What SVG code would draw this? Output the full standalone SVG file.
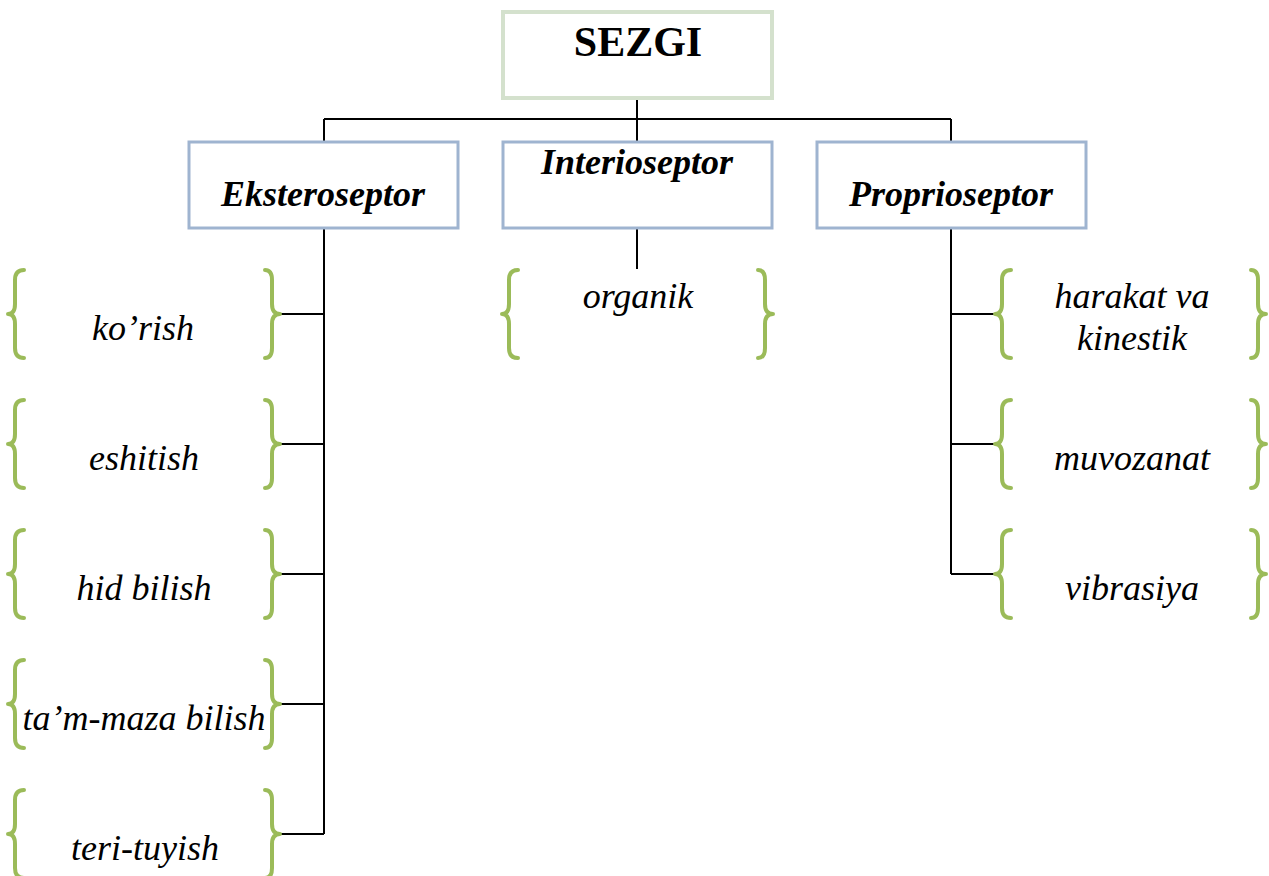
<svg xmlns="http://www.w3.org/2000/svg" xmlns:xlink="http://www.w3.org/1999/xlink" width="1269" height="876" viewBox="0 0 1269 876">
<style>
.root{fill:#fff;stroke:#d4e1cd;stroke-width:4}
.box{fill:#fff;stroke:#9fb4d0;stroke-width:3}
.br{fill:none;stroke:#9bbb59;stroke-width:4;stroke-linecap:round;stroke-linejoin:round}
.ln{fill:none;stroke:#000;stroke-width:2}
.t{font-family:"Liberation Serif","Times New Roman",serif;font-size:36px;font-style:italic;text-anchor:middle;fill:#000}
.h{font-family:"Liberation Serif","Times New Roman",serif;font-size:36px;font-style:italic;font-weight:bold;text-anchor:middle;fill:#000}
.title{font-family:"Liberation Serif","Times New Roman",serif;font-size:42px;font-weight:bold;text-anchor:middle;fill:#000}
</style>
<defs>
<path id="bl" class="br" d="M16,0 Q7,0 7,10 L7,34 Q7,44 0,44 Q7,44 7,54 L7,78 Q7,88 16,88"/>
<path id="brr" class="br" d="M0,0 Q7,0 7,10 L7,34 Q7,44 15,44 Q7,44 7,54 L7,78 Q7,88 0,88"/>
</defs>
<rect width="1269" height="876" fill="#fff"/>
<g id="connectors">
<path class="ln" d="M637,98 V141 M324,119 H951 M324,119 V141 M951,119 V141"/>
<path class="ln" d="M324,228 V834 M280,314 H324 M280,444 H324 M280,574 H324 M280,704 H324 M280,834 H324"/>
<path class="ln" d="M637,228 V269"/>
<path class="ln" d="M951,228 V574 M951,314 H997 M951,444 H997 M951,574 H997"/>
</g>
<g id="sezgi"><rect class="root" x="503" y="12" width="269" height="86"/><text class="title" x="638" y="56">SEZGI</text></g>
<g id="eksteroseptor"><rect class="box" x="189" y="142" width="269" height="86"/><text class="h" x="323" y="206">Eksteroseptor</text></g>
<g id="interioseptor"><rect class="box" x="503" y="142" width="269" height="86"/><text class="h" x="637" y="174">Interioseptor</text></g>
<g id="proprioseptor"><rect class="box" x="817" y="142" width="269" height="86"/><text class="h" x="951" y="206">Proprioseptor</text></g>
<g id="korish"><use xlink:href="#bl" x="8" y="270"/><use xlink:href="#brr" x="265" y="270"/><text class="t" x="143" y="340">ko’rish</text></g>
<g id="eshitish"><use xlink:href="#bl" x="8" y="400"/><use xlink:href="#brr" x="265" y="400"/><text class="t" x="144" y="470">eshitish</text></g>
<g id="hidbilish"><use xlink:href="#bl" x="8" y="530"/><use xlink:href="#brr" x="265" y="530"/><text class="t" x="144" y="600">hid bilish</text></g>
<g id="tammaza"><use xlink:href="#bl" x="8" y="660"/><use xlink:href="#brr" x="265" y="660"/><text class="t" x="144" y="730">ta’m-maza bilish</text></g>
<g id="terituyish"><use xlink:href="#bl" x="8" y="790"/><use xlink:href="#brr" x="265" y="790"/><text class="t" x="145" y="860">teri-tuyish</text></g>
<g id="organik"><use xlink:href="#bl" x="502" y="270"/><use xlink:href="#brr" x="758" y="270"/><text class="t" x="638" y="308">organik</text></g>
<g id="harakat"><use xlink:href="#bl" x="995" y="270"/><use xlink:href="#brr" x="1251" y="270"/><text class="t" x="1132" y="308">harakat va</text><text class="t" x="1132" y="350">kinestik</text></g>
<g id="muvozanat"><use xlink:href="#bl" x="995" y="400"/><use xlink:href="#brr" x="1251" y="400"/><text class="t" x="1132" y="470">muvozanat</text></g>
<g id="vibrasiya"><use xlink:href="#bl" x="995" y="530"/><use xlink:href="#brr" x="1251" y="530"/><text class="t" x="1132" y="600">vibrasiya</text></g>
</svg>
